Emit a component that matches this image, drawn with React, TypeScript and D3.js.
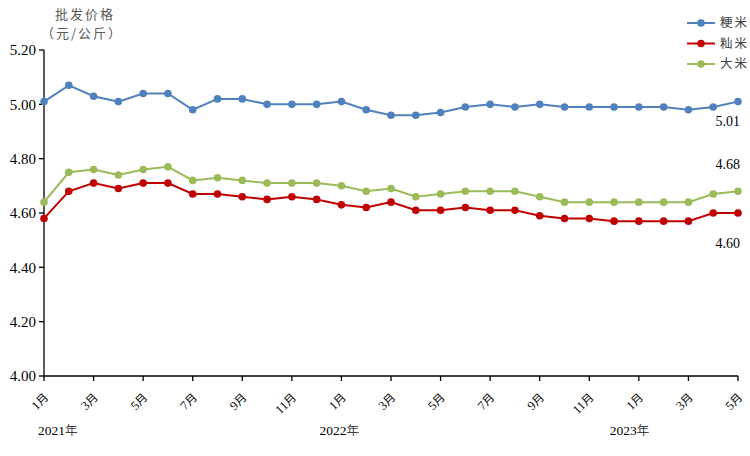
import React from "react";
import * as d3 from "d3";

const months = ["1月","2月","3月","4月","5月","6月","7月","8月","9月","10月","11月","12月",
  "1月","2月","3月","4月","5月","6月","7月","8月","9月","10月","11月","12月",
  "1月","2月","3月","4月","5月"];
const japonica = [5.01,5.07,5.03,5.01,5.04,5.04,4.98,5.02,5.02,5.00,5.00,5.00,5.01,4.98,4.96,4.96,4.97,4.99,5.00,4.99,5.00,4.99,4.99,4.99,4.99,4.99,4.98,4.99,5.01];
const indica = [4.58,4.68,4.71,4.69,4.71,4.71,4.67,4.67,4.66,4.65,4.66,4.65,4.63,4.62,4.64,4.61,4.61,4.62,4.61,4.61,4.59,4.58,4.58,4.57,4.57,4.57,4.57,4.60,4.60];
const rice = [4.64,4.75,4.76,4.74,4.76,4.77,4.72,4.73,4.72,4.71,4.71,4.71,4.70,4.68,4.69,4.66,4.67,4.68,4.68,4.68,4.66,4.64,4.64,4.64,4.64,4.64,4.64,4.67,4.68];
const yTicks = [4.0,4.2,4.4,4.6,4.8,5.0,5.2];
const years = [{ label: "2021年", idx: 0, dx: -6 }, { label: "2022年", idx: 12, dx: -22 }, { label: "2023年", idx: 24, dx: -29 }];

const series = [
  { name: "粳米", values: japonica, color: "#4F81BD", endLabelDy: 24 },
  { name: "籼米", values: indica, color: "#C00000", endLabelDy: 35 },
  { name: "大米", values: rice, color: "#9BBB59", endLabelDy: -22 },
];

const W = 750, H = 456;
const left = 44, right = 738, top = 50, bottom = 376;
const serif = "'Liberation Serif', 'Times New Roman', serif";
const cjk = "'Noto Sans CJK SC', sans-serif";

export default function App() {
  const x = d3.scaleLinear().domain([0, months.length - 1]).range([left, right]);
  const y = d3.scaleLinear().domain([4.0, 5.2]).range([bottom, top]);
  const line = d3.line<number>().x((_, i) => x(i)).y((v) => y(v));
  const tickIdx = months.map((_, i) => i).filter((i) => i % 2 === 0);

  return (
    <svg width={W} height={H} style={{ position: "absolute", left: 0, top: 0 }}>
      <rect width={W} height={H} fill="#fff" />
      {/* title */}
      <text x={85} y={19} textAnchor="middle" fontFamily={cjk} fontSize={13} fill="#595959" letterSpacing={2}>批发价格</text>
      <text x={82} y={38} textAnchor="middle" fontFamily={cjk} fontSize={13} fill="#595959" letterSpacing={2}>（元/公斤）</text>
      {/* y axis */}
      <line x1={left} x2={left} y1={top} y2={bottom} stroke="#000" strokeWidth={1.3} />
      {yTicks.map((t) => (
        <g key={t}>
          <line x1={left - 5} x2={left} y1={y(t)} y2={y(t)} stroke="#000" strokeWidth={1.3} />
          <text x={left - 8} y={y(t)} dy="0.35em" textAnchor="end" fontFamily={serif} fontSize={15} fill="#000">{t.toFixed(2)}</text>
        </g>
      ))}
      {/* x axis */}
      <line x1={left} x2={right} y1={bottom} y2={bottom} stroke="#000" strokeWidth={1.3} />
      {tickIdx.map((i) => (
        <g key={i}>
          <line x1={x(i)} x2={x(i)} y1={bottom} y2={bottom + 5} stroke="#000" strokeWidth={1.3} />
          <text transform={`translate(${x(i) + 2},${bottom + 19}) rotate(-45)`} textAnchor="end" dy="0.35em" fontSize={12.5} fill="#000">
            <tspan fontFamily={serif}>{months[i].replace("月", "")}</tspan>
            <tspan fontFamily={cjk} fontSize={11.5}>月</tspan>
          </text>
        </g>
      ))}
      {years.map((yr) => (
        <text key={yr.label} x={x(yr.idx) + yr.dx} y={435} fontSize={13.5} fill="#000">
          <tspan fontFamily={serif}>{yr.label.replace("年", "")}</tspan>
          <tspan fontFamily={cjk} fontSize={12.5} fill="#404040">年</tspan>
        </text>
      ))}
      {/* series */}
      {series.map((s) => (
        <g key={s.name}>
          <path d={line(s.values) || ""} fill="none" stroke={s.color} strokeWidth={2} />
          {s.values.map((v, i) => (
            <circle key={i} cx={x(i)} cy={y(v)} r={3.8} fill={s.color} />
          ))}
          <text x={right + 2} y={y(s.values[s.values.length - 1]) + s.endLabelDy} textAnchor="end" fontFamily={serif} fontSize={14} fill="#000">
            {s.values[s.values.length - 1].toFixed(2)}
          </text>
        </g>
      ))}
      {/* legend */}
      {series.map((s, i) => (
        <g key={s.name} transform={`translate(687,${23 + i * 20.5})`}>
          <line x1={0} x2={28} y1={0} y2={0} stroke={s.color} strokeWidth={2} />
          <circle cx={14} cy={0} r={3.8} fill={s.color} />
          <text x={33} y={0} dy="0.35em" fontFamily={cjk} fontSize={12.5} fill="#404040" letterSpacing={2}>{s.name}</text>
        </g>
      ))}
    </svg>
  );
}
